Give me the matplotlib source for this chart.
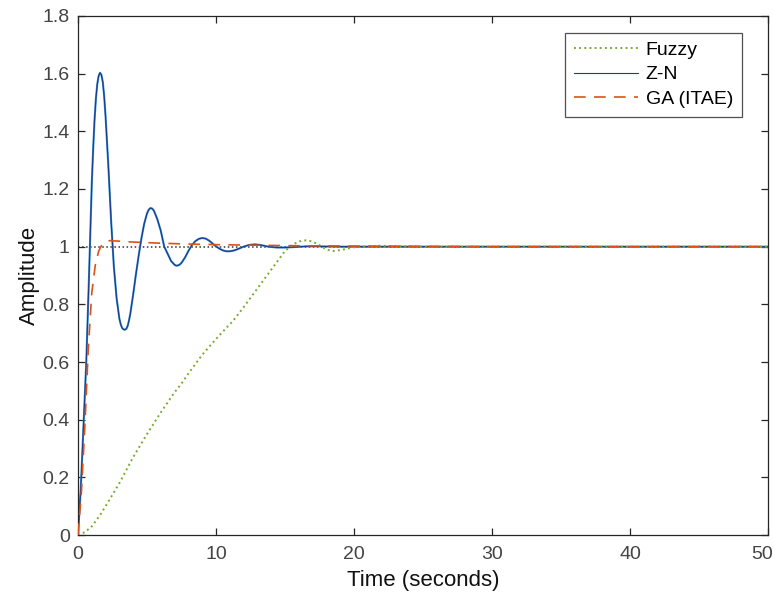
import matplotlib
matplotlib.use('Agg')
import matplotlib.pyplot as plt
from matplotlib.ticker import FuncFormatter
from matplotlib.transforms import ScaledTranslation

plt.rcParams['font.family'] = ['Liberation Sans', 'DejaVu Sans']

# Fuzzy controller step response
t_fuzzy = [0, 0.5, 1.0, 1.6, 2.0, 3.0, 4.0, 5.0, 6.0, 7.0, 7.5, 8.0, 9.0, 10.0,
           11.26, 12.0, 13.0, 14.0, 15.0, 15.5, 16.0, 16.5, 17.0, 17.5, 18.0,
           18.5, 19.0, 19.5, 20.0, 21.0, 22.0, 24.0, 26.0, 50.0]
y_fuzzy = [0, 0.01, 0.03, 0.069, 0.1, 0.18, 0.27, 0.35, 0.425, 0.495, 0.525,
           0.56, 0.625, 0.68, 0.744, 0.79, 0.855, 0.92, 0.985, 1.005, 1.018,
           1.022, 1.018, 1.005, 0.99, 0.985, 0.988, 0.993, 0.998, 1.002, 1.003,
           1.001, 1.0, 1.0]

# Ziegler-Nichols tuned PID
t_zn = [0, 0.2, 0.4, 0.6, 0.8, 1.0, 1.1, 1.2, 1.3, 1.4, 1.5, 1.6, 1.7, 1.8,
        1.9, 2.0, 2.2, 2.4, 2.6, 2.8, 3.0, 3.1, 3.2, 3.3, 3.4, 3.5, 3.6, 3.7,
        3.8, 4.0, 4.2, 4.4, 4.6, 4.8, 5.0, 5.125, 5.25, 5.375, 5.5, 5.75, 6.0,
        6.25, 6.5, 6.75, 7.0, 7.125, 7.25, 7.375, 7.5, 7.75, 8.0, 8.25, 8.5,
        8.75, 9.0, 9.25, 9.5, 9.75, 10.0, 10.25, 10.5, 10.75, 11.0, 11.25,
        11.5, 12.0, 12.4, 12.8, 13.2, 13.8, 14.4, 15.0, 15.8, 16.5, 17.5, 19.0,
        50.0]
y_zn = [0, 0.16, 0.38, 0.6, 0.9, 1.22, 1.34, 1.44, 1.515, 1.565, 1.593,
        1.603, 1.595, 1.57, 1.52, 1.45, 1.28, 1.09, 0.93, 0.82, 0.75, 0.73,
        0.718, 0.713, 0.712, 0.715, 0.725, 0.745, 0.77, 0.835, 0.905, 0.97,
        1.03, 1.08, 1.115, 1.128, 1.134, 1.132, 1.125, 1.095, 1.055, 1.0,
        0.975, 0.95, 0.937, 0.934, 0.935, 0.938, 0.944, 0.962, 0.985, 1.005,
        1.019, 1.027, 1.03, 1.028, 1.021, 1.011, 1.001, 0.993, 0.987, 0.984,
        0.984, 0.986, 0.99, 1.0, 1.006, 1.008, 1.006, 1.0, 0.997, 0.997, 0.999,
        1.001, 1.001, 1.0, 1.0]

# GA (ITAE) tuned PID
t_ga = [0, 0.25, 0.5, 0.75, 1.0, 1.25, 1.5, 1.75, 2.0, 2.3, 3.0, 4.0, 6.0,
        8.0, 10.0, 13.0, 16.0, 20.0, 25.0, 30.0, 50.0]
y_ga = [0, 0.15, 0.38, 0.65, 0.84, 0.935, 0.985, 1.008, 1.018, 1.021, 1.019,
        1.016, 1.012, 1.009, 1.007, 1.005, 1.003, 1.002, 1.001, 1.0, 1.0]

steady_state = 1.0

fig = plt.figure(figsize=(7.73, 6.01), dpi=100)
ax = fig.add_axes([0.1009, 0.1098, 0.8926, 0.8636])

ax.axhline(steady_state, color='#333333', linestyle=':', linewidth=1.1, zorder=1)

ax.plot(t_fuzzy, y_fuzzy, linestyle=':', color='#77AC30', linewidth=1.4,
        label='Fuzzy', zorder=3)
ax.plot(t_zn, y_zn, color='#3d8fd0', linewidth=1.5, zorder=2)
ax.plot(t_zn, y_zn, color='#1a3a8a', linewidth=0.8, label='Z-N', zorder=2)
ax.plot(t_ga, y_ga, color='#D95319', linewidth=1.2, dashes=(7, 5),
        label='GA (ITAE)', zorder=3)

ax.set_xlim(0, 50)
ax.set_ylim(0, 1.8)
ax.set_xticks([0, 10, 20, 30, 40, 50])
ax.set_yticks([0, 0.2, 0.4, 0.6, 0.8, 1.0, 1.2, 1.4, 1.6, 1.8])
ax.yaxis.set_major_formatter(FuncFormatter(lambda v, p: f'{v:g}'))

gray = '#262626'
for s in ax.spines.values():
    s.set_color(gray)
    s.set_linewidth(0.9)
ax.tick_params(direction='in', length=5, width=0.9, colors=gray,
               labelsize=14, top=True, right=True)
ax.tick_params(axis='x', pad=8)
ax.tick_params(axis='y', pad=6)
for lab in ax.get_xticklabels() + ax.get_yticklabels():
    lab.set_color('#444444')
# keep the last x label inside the canvas
last = ax.get_xticklabels()[-1]
last.set_transform(last.get_transform() + ScaledTranslation(-6 / 100, 0, fig.dpi_scale_trans))

ax.set_xlabel('Time (seconds)', fontsize=16, color='#111111', labelpad=5)
ax.set_ylabel('Amplitude', fontsize=16, color='#111111', labelpad=2)

leg = ax.legend(loc='upper right', bbox_to_anchor=(0.962, 0.968),
                borderaxespad=0, fontsize=14, fancybox=False,
                frameon=True, handlelength=3.3, handletextpad=0.4,
                labelspacing=0.35, borderpad=0.45)
leg.get_frame().set_edgecolor(gray)
leg.get_frame().set_linewidth(0.9)

fig.savefig('out.png', dpi=100)
